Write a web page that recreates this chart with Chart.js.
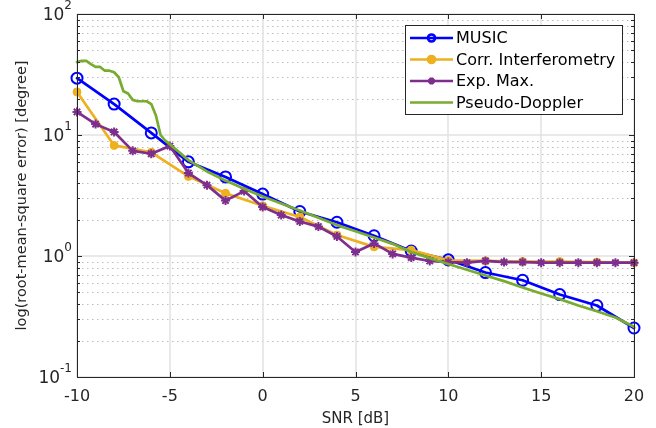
<!DOCTYPE html>
<html>
<head>
<meta charset="utf-8">
<script src="https://cdn.jsdelivr.net/npm/chart.js"></script>
<style>
  html, body { margin: 0; padding: 0; background: #fff; }
  #wrap { width: 656px; height: 428px; }
</style>
</head>
<body>
<div id="wrap"><canvas id="rmseChart" width="656" height="428"></canvas></div>
<script>
// SNR steps used by the simulations
const snrCoarse = [-10, -8, -6, -4, -2, 0, 2, 4, 6, 8, 10, 12, 14, 16, 18, 20];
const snrFine = [-10, -9, -8, -7, -6, -5, -4, -3, -2, -1, 0, 1, 2, 3, 4, 5, 6, 7, 8, 9, 10,
                 11, 12, 13, 14, 15, 16, 17, 18, 19, 20];
const snrPseudo = [-10, -9.75, -9.5, -9.25, -9, -8.75, -8.5, -8.25, -8, -7.75, -7.5, -7.25, -7,
                   -6.75, -6.5, -6.25, -6, -5.75, -5.5, -5.25, -5, -4, -3, -2, -1, 0, 1, 2, 3, 4,
                   5, 6, 7, 8, 9, 10, 11, 12, 13, 14, 15, 16, 17, 18, 19, 20];

// RMSE [degree]
const musicRmse = [29.5, 18, 10.4, 6.0, 4.5, 3.25, 2.33, 1.9, 1.47, 1.1, 0.93, 0.73, 0.63, 0.48, 0.39, 0.254];
const corrRmse = [22.7, 8.2, 7.2, 4.55, 3.3, 2.6, 2.1, 1.49, 1.19, 1.12, 0.92, 0.91, 0.9, 0.9, 0.89, 0.88];
const expMaxRmse = [15.5, 12.3, 10.6, 7.4, 7.0, 8.1, 4.85, 3.85, 2.87, 3.44, 2.54, 2.18, 1.93, 1.75, 1.45,
                    1.08, 1.27, 1.04, 0.97, 0.91, 0.89, 0.88, 0.91, 0.89, 0.89, 0.88, 0.88, 0.88, 0.88, 0.88, 0.88];
const pseudoRmse = [40, 41, 41, 38.5, 36.5, 36.5, 34, 34, 33, 30, 23, 22, 19.5, 19, 19, 19, 18, 14.5, 10, 9,
                    8.4, 6.2, 5.0, 4.2, 3.6, 3.1, 2.72, 2.38, 2.07, 1.8, 1.6, 1.42, 1.26, 1.08, 0.96, 0.86,
                    0.77, 0.69, 0.62, 0.55, 0.49, 0.44, 0.39, 0.35, 0.31, 0.26];

const xTicks = [-10, -5, 0, 5, 10, 15, 20];
const yDecades = [0.1, 1, 10, 100];

const FONT = '"DejaVu Sans", Verdana, sans-serif';

function pairs(xs, ys) {
    return xs.map((x, i) => ({ x: x, y: ys[i] }));
}

// matlab style box, grid, ticks and legend
const matlabAxes = {
    id: 'matlabAxes',
    beforeDatasetsDraw(chart) {
        const ctx = chart.ctx;
        const a = chart.chartArea;
        const xs = chart.scales.x, ys = chart.scales.y;
        ctx.save();
        // minor dotted
        ctx.strokeStyle = '#bdbdbd';
        ctx.lineWidth = 1;
        ctx.setLineDash([1.5, 3.5]);
        yDecades.forEach(d => {
            for (let m = 2; m <= 9; m++) {
                const v = d * m;
                if (v >= 100) continue;
                const py = Math.round(ys.getPixelForValue(v)) + 0.5;
                ctx.beginPath(); ctx.moveTo(a.left, py); ctx.lineTo(a.right, py); ctx.stroke();
            }
        });
        ctx.setLineDash([]);
        // major solid
        ctx.strokeStyle = '#e2e2e2';
        ctx.lineWidth = 1.5;
        yDecades.forEach(d => {
            const py = Math.round(ys.getPixelForValue(d));
            ctx.beginPath(); ctx.moveTo(a.left, py); ctx.lineTo(a.right, py); ctx.stroke();
        });
        xTicks.forEach(t => {
            const px = Math.round(xs.getPixelForValue(t));
            ctx.beginPath(); ctx.moveTo(px, a.top); ctx.lineTo(px, a.bottom); ctx.stroke();
        });
        ctx.restore();
    },
    afterDatasetsDraw(chart) {
        const ctx = chart.ctx;
        const a = chart.chartArea;
        const xs = chart.scales.x, ys = chart.scales.y;
        ctx.save();
        ctx.strokeStyle = '#262626';
        ctx.lineWidth = 1;
        ctx.strokeRect(a.left + 0.5, a.top + 0.5, a.right - a.left, a.bottom - a.top);

        // ticks
        ctx.beginPath();
        xTicks.forEach(t => {
            const px = Math.round(xs.getPixelForValue(t)) + 0.5;
            ctx.moveTo(px, a.bottom); ctx.lineTo(px, a.bottom - 5);
            ctx.moveTo(px, a.top); ctx.lineTo(px, a.top + 5);
        });
        yDecades.forEach(d => {
            for (let m = 1; m <= 9; m++) {
                const v = d * m;
                if (v > 100) continue;
                const len = m === 1 ? 5 : 3;
                const py = Math.round(ys.getPixelForValue(v)) + 0.5;
                ctx.moveTo(a.left, py); ctx.lineTo(a.left + len, py);
                ctx.moveTo(a.right, py); ctx.lineTo(a.right - len, py);
            }
        });
        ctx.stroke();

        // y tick labels with superscript exponents
        ctx.fillStyle = '#262626';
        ctx.textBaseline = 'middle';
        yDecades.forEach(d => {
            const exp = String(Math.round(Math.log10(d)));
            const py = ys.getPixelForValue(d);
            ctx.font = '12px ' + FONT;
            const ew = ctx.measureText(exp).width;
            ctx.textAlign = 'left';
            const right = a.left - 5;
            ctx.fillText(exp, right - ew, py - 8);
            ctx.font = '17px ' + FONT;
            ctx.textAlign = 'right';
            ctx.fillText('10', right - ew, py + 2);
        });

        // legend
        const box = { left: 405, top: 25, right: 622, bottom: 114 };
        ctx.fillStyle = '#ffffff';
        ctx.fillRect(box.left, box.top, box.right - box.left, box.bottom - box.top);
        ctx.strokeStyle = '#262626';
        ctx.lineWidth = 1;
        ctx.strokeRect(box.left + 0.5, box.top + 0.5, box.right - box.left, box.bottom - box.top);
        const rowY = [38, 59.5, 81, 102.5];
        chart.data.datasets.forEach((ds, i) => {
            const y = rowY[i];
            ctx.strokeStyle = ds.borderColor;
            ctx.lineWidth = ds.borderWidth;
            ctx.beginPath(); ctx.moveTo(410, y); ctx.lineTo(453, y); ctx.stroke();
            if (ds.pointRadius > 0) {
                ctx.fillStyle = ds.pointBackgroundColor;
                ctx.strokeStyle = ds.borderColor;
                Chart.helpers.drawPoint(ctx, {
                    pointStyle: ds.pointStyle,
                    radius: ds.legendRadius,
                    borderWidth: ds.pointBorderWidth,
                    rotation: 0
                }, 431.5, y);
            }
            ctx.fillStyle = '#000000';
            ctx.font = '16px ' + FONT;
            ctx.textAlign = 'left';
            ctx.textBaseline = 'middle';
            ctx.fillText(ds.label, 456, y + 1);
        });
        ctx.restore();
    }
};

const ctx = document.getElementById('rmseChart').getContext('2d');
const rmseChart = new Chart(ctx, {
    type: 'line',
    data: {
        datasets: [
            {
                label: 'MUSIC',
                data: pairs(snrCoarse, musicRmse),
                borderColor: '#0000ff',
                borderWidth: 2.7,
                pointStyle: 'circle',
                pointRadius: 5.5,
                pointBorderWidth: 2,
                pointBackgroundColor: 'rgba(0,0,0,0)',
                legendRadius: 3.5,
                order: 4,
                clip: false
            },
            {
                label: 'Corr. Interferometry',
                data: pairs(snrCoarse, corrRmse),
                borderColor: '#edb120',
                borderWidth: 2.7,
                pointStyle: 'circle',
                pointRadius: 4,
                pointBorderWidth: 1,
                pointBackgroundColor: '#edb120',
                legendRadius: 3.5,
                order: 3,
                clip: false
            },
            {
                label: 'Exp. Max.',
                data: pairs(snrFine, expMaxRmse),
                borderColor: '#7e2f8e',
                borderWidth: 2.7,
                pointStyle: 'star',
                pointRadius: 4.5,
                pointBorderWidth: 2,
                pointBackgroundColor: '#7e2f8e',
                legendRadius: 3.5,
                order: 2,
                clip: false
            },
            {
                label: 'Pseudo-Doppler',
                data: pairs(snrPseudo, pseudoRmse),
                borderColor: '#77ac30',
                borderWidth: 2.7,
                pointRadius: 0,
                pointBackgroundColor: '#77ac30',
                legendRadius: 0,
                order: 1,
                clip: false
            }
        ]
    },
    options: {
        responsive: false,
        animation: false,
        events: [],
        layout: { padding: { top: 14, right: 22, left: 14, bottom: 0 } },
        elements: { line: { tension: 0, borderJoinStyle: 'round', borderCapStyle: 'round' } },
        plugins: {
            legend: { display: false },
            tooltip: { enabled: false }
        },
        scales: {
            x: {
                type: 'linear',
                min: -10,
                max: 20,
                grid: { display: false },
                border: { display: false },
                ticks: {
                    stepSize: 5,
                    color: '#262626',
                    font: { family: FONT, size: 16 },
                    padding: 2
                },
                title: {
                    display: true,
                    text: 'SNR [dB]',
                    color: '#262626',
                    font: { family: FONT, size: 15 },
                    padding: { top: 0, bottom: 0 }
                },
                afterFit: s => { s.height = 51; }
            },
            y: {
                type: 'logarithmic',
                min: 0.1,
                max: 100,
                grid: { display: false },
                border: { display: false },
                ticks: { display: false },
                title: {
                    display: true,
                    text: 'log(root-mean-square error) [degree]',
                    color: '#262626',
                    font: { family: FONT, size: 14.5 },
                    padding: { top: 0, bottom: 0 }
                },
                afterFit: s => { s.width = 63; }
            }
        }
    },
    plugins: [matlabAxes]
});
</script>
</body>
</html>
